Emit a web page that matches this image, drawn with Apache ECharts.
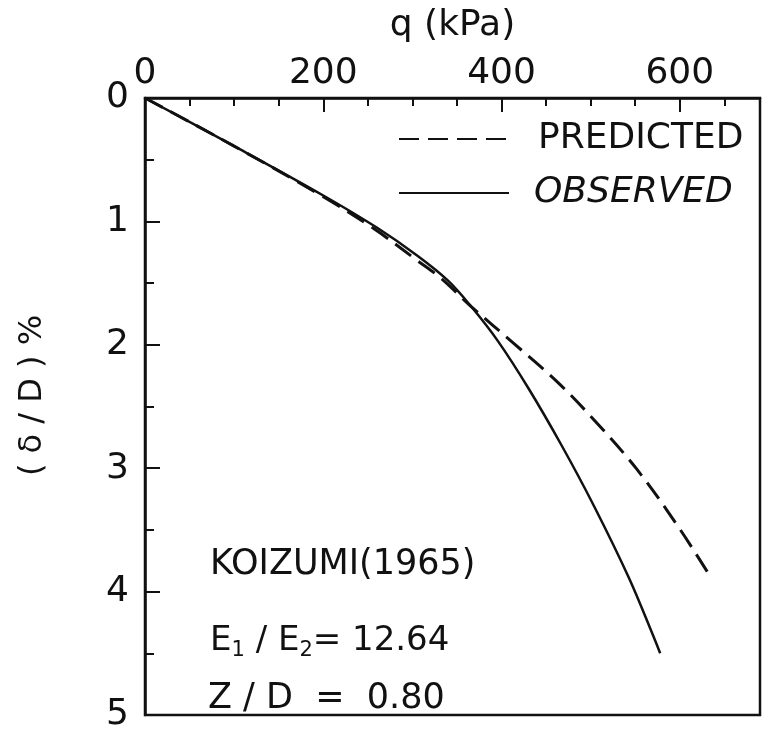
<!DOCTYPE html>
<html>
<head>
<meta charset="utf-8">
<script src="https://cdn.jsdelivr.net/npm/echarts@6/dist/echarts.min.js"></script>
<style>
  html, body { margin: 0; padding: 0; background: #ffffff; }
  #chart { width: 768px; height: 733px; }
</style>
</head>
<body>
<div id="chart"></div>
<script>
// ---- Data ----
const qPredicted = [0, 100, 200, 257, 306, 332, 366, 414, 464, 509, 552, 596, 631];
const dPredicted = [0, 0.39, 0.80, 1.06, 1.32, 1.46, 1.69, 1.99, 2.31, 2.65, 3.01, 3.45, 3.84];
const qObserved = [0, 100, 200, 260, 306, 340, 366, 396, 430, 467, 504, 543, 572, 578];
const dObserved = [0, 0.39, 0.79, 1.05, 1.28, 1.48, 1.69, 1.97, 2.35, 2.81, 3.31, 3.89, 4.39, 4.50];
const seriesNames = ['PREDICTED', 'OBSERVED'];
const xTickLabels = [0, 200, 400, 600];
const yTickLabels = [0, 1, 2, 3, 4, 5];
const annotationTitle = 'KOIZUMI(1965)';
const annotationRatio = '{m|E}{s|1}{m| / E}{s|2}{m|= 12.64}';
const annotationDepth = 'Z / D  =  0.80';

const INK = '#111111';
const FONT = 'DejaVu Sans';

const pairs = (xs, ys) => xs.map((x, i) => [x, ys[i]]);

const chart = echarts.init(document.getElementById('chart'), null, { renderer: 'canvas' });

const option = {
  backgroundColor: '#ffffff',
  animation: false,
  textStyle: { fontFamily: FONT, color: INK },
  grid: {
    left: 145, right: 8, top: 98, bottom: 3,
    show: true, borderColor: INK, borderWidth: 2.5, backgroundColor: 'transparent'
  },
  legend: {
    data: seriesNames,
    orient: 'vertical',
    left: 393, top: 114,
    itemWidth: 110, itemHeight: 20,
    itemGap: 14,
    itemStyle: { opacity: 0 },
    formatter: function (name) {
      return name === 'OBSERVED' ? '{i|' + name + '}' : '{n|' + name + '}';
    },
    textStyle: {
      fontSize: 36, color: INK, fontFamily: FONT, lineHeight: 40,
      rich: {
        n: { fontSize: 36, fontFamily: FONT, color: INK, padding: [0, 0, 0, 24] },
        i: { fontSize: 36, fontFamily: FONT, color: INK, fontStyle: 'italic', padding: [0, 0, 0, 20] }
      }
    }
  },
  xAxis: [
    {
      type: 'value', position: 'top', min: 0, max: 690, interval: 50,
      name: 'q (kPa)', nameLocation: 'middle', nameGap: 54,
      nameTextStyle: { fontSize: 36, color: INK, fontFamily: FONT },
      axisLine: { show: true, lineStyle: { color: INK, width: 2.5 } },
      axisTick: { show: true, inside: true, length: 8, lineStyle: { color: INK, width: 2 } },
      axisLabel: {
        fontSize: 36, color: INK, fontFamily: FONT, margin: 6,
        formatter: v => (xTickLabels.indexOf(v) >= 0 ? String(v) : '')
      },
      splitLine: { show: false }
    },
    {
      type: 'value', position: 'top', min: 0, max: 690, interval: 200,
      axisLine: { show: false },
      axisTick: { show: true, inside: true, length: 14, lineStyle: { color: INK, width: 2 } },
      axisLabel: { show: false },
      splitLine: { show: false }
    }
  ],
  yAxis: [
    {
      type: 'value', inverse: true, min: 0, max: 5, interval: 0.5,
      name: '( \u03b4 / D ) %', nameLocation: 'middle', nameGap: 96, nameRotate: 90,
      nameTextStyle: { fontSize: 32, color: INK, fontFamily: FONT, padding: [0, 0, 0, 22] },
      axisLine: { show: true, lineStyle: { color: INK, width: 2.5 } },
      axisTick: { show: true, inside: true, length: 9, lineStyle: { color: INK, width: 2 } },
      axisLabel: {
        fontSize: 36, color: INK, fontFamily: FONT, margin: 16,
        formatter: v => (yTickLabels.indexOf(v) >= 0 ? String(v) : '')
      },
      splitLine: { show: false }
    },
    {
      type: 'value', inverse: true, min: 0, max: 5, interval: 1, position: 'left',
      axisLine: { show: false },
      axisTick: { show: true, inside: true, length: 15, lineStyle: { color: INK, width: 2 } },
      axisLabel: { show: false },
      splitLine: { show: false }
    }
  ],
  series: [
    {
      name: seriesNames[0], type: 'line', xAxisIndex: 0, yAxisIndex: 0,
      data: pairs(qPredicted, dPredicted),
      smooth: 0.35, showSymbol: false, symbol: 'none',
      lineStyle: { color: INK, width: 3, type: [20, 9] },
      itemStyle: { color: INK }
    },
    {
      name: seriesNames[1], type: 'line', xAxisIndex: 0, yAxisIndex: 0,
      data: pairs(qObserved, dObserved),
      smooth: 0.35, showSymbol: false, symbol: 'none',
      lineStyle: { color: INK, width: 2.5, type: 'solid' },
      itemStyle: { color: INK }
    }
  ],
  graphic: [
    { type: 'text', left: 210, top: 547, style: { text: annotationTitle, fontSize: 35, fontFamily: FONT, fill: INK } },
    {
      type: 'text', left: 210, top: 624,
      style: {
        text: annotationRatio, fontFamily: FONT, fill: INK,
        rich: {
          m: { fontSize: 34, fontFamily: FONT, fill: INK, lineHeight: 40, verticalAlign: 'middle' },
          s: { fontSize: 21, fontFamily: FONT, fill: INK, lineHeight: 14, verticalAlign: 'bottom' }
        }
      }
    },
    { type: 'text', left: 208, top: 681, style: { text: annotationDepth, fontSize: 35, fontFamily: FONT, fill: INK } }
  ]
};

chart.setOption(option);
</script>
</body>
</html>
